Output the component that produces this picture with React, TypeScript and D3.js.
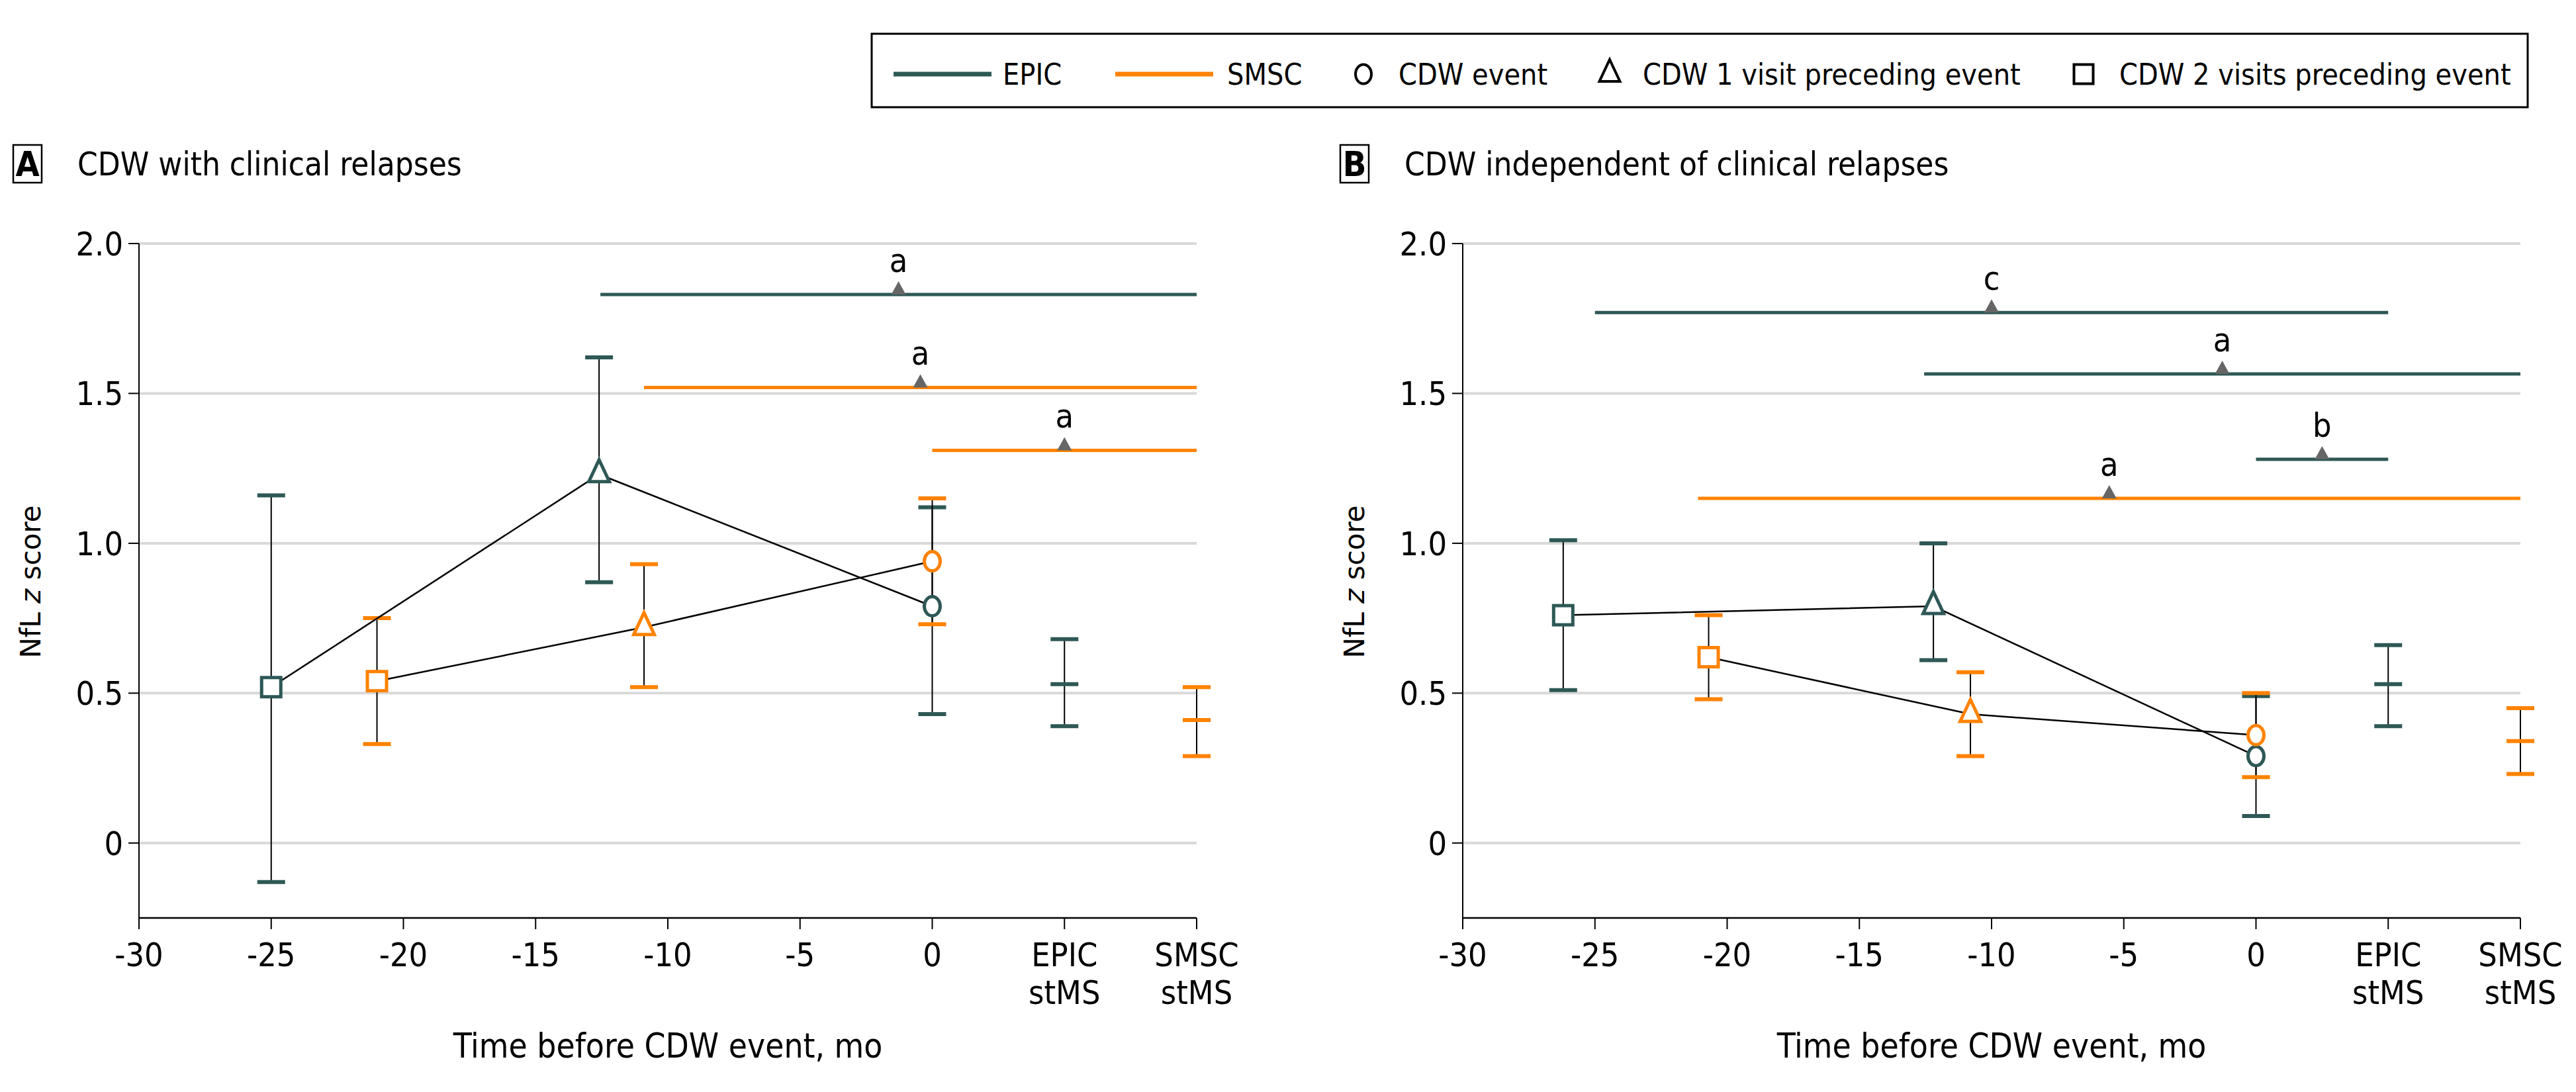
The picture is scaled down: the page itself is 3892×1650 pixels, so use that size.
import React from 'react'
import { scaleLinear, line } from 'd3'

// values (NfL z score, mean with 95% CI)
const xTicks = [-30, -25, -20, -15, -10, -5, 0, 5, 10]
const xTickLabels: Record<number, string[]> = {
  5: ['EPIC', 'stMS'],
  10: ['SMSC', 'stMS'],
}
const yTicks = [0, 0.5, 1.0, 1.5, 2.0]
const yTickLabels = ['0', '0.5', '1.0', '1.5', '2.0']

const STABLE_EPIC = 5
const STABLE_SMSC = 10

// panel A: CDW with clinical relapses
const aEpic = [
  { shape: 'square', t: -25, mean: 0.52, lo: -0.13, hi: 1.16 },
  { shape: 'triangle', t: -12.6, mean: 1.23, lo: 0.87, hi: 1.62 },
  { shape: 'circle', t: 0, mean: 0.79, lo: 0.43, hi: 1.12 },
]
const aSmsc = [
  { shape: 'square', t: -21, mean: 0.54, lo: 0.33, hi: 0.75 },
  { shape: 'triangle', t: -10.9, mean: 0.72, lo: 0.52, hi: 0.93 },
  { shape: 'circle', t: 0, mean: 0.94, lo: 0.73, hi: 1.15 },
]
const aEpicStable = { mean: 0.53, lo: 0.39, hi: 0.68 }
const aSmscStable = { mean: 0.41, lo: 0.29, hi: 0.52 }
const aBrackets = [
  { series: 'EPIC', y: 1.83, from: -12.55, to: 10, label: 'a' },
  { series: 'SMSC', y: 1.52, from: -10.9, to: 10, label: 'a' },
  { series: 'SMSC', y: 1.31, from: 0, to: 10, label: 'a' },
]

// panel B: CDW independent of clinical relapses
const bEpic = [
  { shape: 'square', t: -26.2, mean: 0.76, lo: 0.51, hi: 1.01 },
  { shape: 'triangle', t: -12.2, mean: 0.79, lo: 0.61, hi: 1.0 },
  { shape: 'circle', t: 0, mean: 0.29, lo: 0.09, hi: 0.49 },
]
const bSmsc = [
  { shape: 'square', t: -20.7, mean: 0.62, lo: 0.48, hi: 0.76 },
  { shape: 'triangle', t: -10.8, mean: 0.43, lo: 0.29, hi: 0.57 },
  { shape: 'circle', t: 0, mean: 0.36, lo: 0.22, hi: 0.5 },
]
const bEpicStable = { mean: 0.53, lo: 0.39, hi: 0.66 }
const bSmscStable = { mean: 0.34, lo: 0.23, hi: 0.45 }
const bBrackets = [
  { series: 'EPIC', y: 1.77, from: -25, to: 5, label: 'c' },
  { series: 'EPIC', y: 1.565, from: -12.55, to: 10, label: 'a' },
  { series: 'EPIC', y: 1.28, from: 0, to: 5, label: 'b' },
  { series: 'SMSC', y: 1.15, from: -21.1, to: 10, label: 'a' },
]

const legendItems = [
  { kind: 'line', series: 'EPIC', label: 'EPIC' },
  { kind: 'line', series: 'SMSC', label: 'SMSC' },
  { kind: 'circle', label: 'CDW event' },
  { kind: 'triangle', label: 'CDW 1 visit preceding event' },
  { kind: 'square', label: 'CDW 2 visits preceding event' },
]

const COLORS: Record<string, string> = { EPIC: '#2e5856', SMSC: '#ff8200' }
const NARROW = '"Liberation Sans Narrow", "DejaVu Sans Condensed", "Arial Narrow", sans-serif'
const W = 3892
const H = 1650

function Marker({ shape, x, y, color, sw = 5 }) {
  if (shape === 'square')
    return <rect x={x - 14.5} y={y - 14.5} width={29} height={29} fill="#fff" stroke={color} strokeWidth={sw} />
  if (shape === 'circle')
    return <ellipse cx={x} cy={y} rx={12} ry={14.5} fill="#fff" stroke={color} strokeWidth={sw} />
  // triangle centred on its centroid
  return (
    <path
      d={`M${x},${y - 22}L${x + 15.5},${y + 11}L${x - 15.5},${y + 11}Z`}
      fill="#fff"
      stroke={color}
      strokeWidth={sw}
      strokeLinejoin="miter"
    />
  )
}

function ErrorBar({ x, lo, hi, mean, color, showMean }) {
  const cw = 21
  return (
    <g>
      <line x1={x} x2={x} y1={lo} y2={hi} stroke="#000" strokeWidth={2} />
      <line x1={x - cw} x2={x + cw} y1={lo} y2={lo} stroke={color} strokeWidth={6} />
      <line x1={x - cw} x2={x + cw} y1={hi} y2={hi} stroke={color} strokeWidth={6} />
      {showMean && <line x1={x - cw} x2={x + cw} y1={mean} y2={mean} stroke={color} strokeWidth={6} />}
    </g>
  )
}

function Panel({ left, letter, title, epic, smsc, epicStable, smscStable, brackets, letterBoxX }) {
  const x = scaleLinear().domain([-30, 10]).range([left, left + 1598])
  const y = scaleLinear().domain([-0.25, 2.0]).range([1387, 368])
  const path = line<any>()
    .x((d) => x(d.t))
    .y((d) => y(d.mean))

  const series = [
    { name: 'EPIC', visits: epic, stable: epicStable, at: STABLE_EPIC },
    { name: 'SMSC', visits: smsc, stable: smscStable, at: STABLE_SMSC },
  ]

  return (
    <g>
      {/* panel header */}
      <rect x={letterBoxX} y={219} width={43} height={57} fill="#fff" stroke="#000" strokeWidth={2.5} />
      <text x={letterBoxX + 21.5} y={266} textAnchor="middle" fontFamily={NARROW} fontWeight="bold" fontSize={52}>
        {letter}
      </text>
      <text x={letterBoxX + 97} y={265} fontFamily={NARROW} fontSize={49}>
        {title}
      </text>

      {/* grid */}
      {yTicks.map((v) => (
        <line key={v} x1={x(-30)} x2={x(10)} y1={y(v)} y2={y(v)} stroke="#d9d9d9" strokeWidth={4} />
      ))}

      {/* y axis */}
      <line x1={x(-30)} x2={x(-30)} y1={y(2)} y2={y(-0.25)} stroke="#000" strokeWidth={2} />
      {yTicks.map((v, i) => (
        <g key={v}>
          <line x1={x(-30) - 16} x2={x(-30)} y1={y(v)} y2={y(v)} stroke="#000" strokeWidth={2} />
          <text x={x(-30) - 24} y={y(v) + 18} textAnchor="end" fontFamily={NARROW} fontSize={50}>
            {yTickLabels[i]}
          </text>
        </g>
      ))}
      <text
        transform={`translate(${left - 149},879) rotate(-90)`}
        textAnchor="middle"
        fontFamily='"DejaVu Sans", sans-serif'
        fontSize={42}
      >
        NfL <tspan fontStyle="italic">z</tspan> score
      </text>

      {/* x axis */}
      <line x1={x(-30)} x2={x(10)} y1={y(-0.25)} y2={y(-0.25)} stroke="#000" strokeWidth={2.5} />
      {xTicks.map((t) => (
        <g key={t}>
          <line x1={x(t)} x2={x(t)} y1={y(-0.25)} y2={y(-0.25) + 17} stroke="#000" strokeWidth={2} />
          {(xTickLabels[t] || [String(t)]).map((s, i) => (
            <text key={i} x={x(t)} y={1460 + i * 57} textAnchor="middle" fontFamily={NARROW} fontSize={50}>
              {s}
            </text>
          ))}
        </g>
      ))}
      <text x={(x(-30) + x(10)) / 2} y={1598} textAnchor="middle" fontFamily={NARROW} fontSize={51}>
        Time before CDW event, mo
      </text>

      {/* significance brackets */}
      {brackets.map((b, i) => {
        const mx = (x(b.from) + x(b.to)) / 2
        const by = y(b.y)
        return (
          <g key={i}>
            <line x1={x(b.from)} x2={x(b.to)} y1={by} y2={by} stroke={COLORS[b.series]} strokeWidth={5} />
            <path d={`M${mx},${by - 20}L${mx + 11},${by}L${mx - 11},${by}Z`} fill="#666" />
            <text x={mx} y={by - 34} textAnchor="middle" fontFamily={NARROW} fontSize={50}>
              {b.label}
            </text>
          </g>
        )
      })}

      {/* error bars */}
      {series.map((s) => (
        <g key={s.name}>
          {s.visits.map((d, i) => (
            <ErrorBar key={i} x={x(d.t)} lo={y(d.lo)} hi={y(d.hi)} mean={y(d.mean)} color={COLORS[s.name]} showMean={false} />
          ))}
          <ErrorBar
            x={x(s.at)}
            lo={y(s.stable.lo)}
            hi={y(s.stable.hi)}
            mean={y(s.stable.mean)}
            color={COLORS[s.name]}
            showMean={true}
          />
        </g>
      ))}

      {/* trajectories */}
      {series.map((s) => (
        <path key={s.name} d={path(s.visits) || ''} fill="none" stroke="#000" strokeWidth={2.5} />
      ))}

      {/* markers */}
      {series.map((s) =>
        s.visits.map((d, i) => (
          <Marker key={s.name + i} shape={d.shape} x={x(d.t)} y={y(d.mean)} color={COLORS[s.name]} />
        ))
      )}
    </g>
  )
}

function Legend() {
  // layout: x of each item's symbol (start for lines, centre for markers) and text start
  const slots = [
    { sx: 1350, tx: 1515 },
    { sx: 1685, tx: 1854 },
    { sx: 2060, tx: 2113 },
    { sx: 2432, tx: 2482 },
    { sx: 3148, tx: 3202 },
  ]
  const cy = 112
  return (
    <g>
      <rect x={1317} y={51} width={2502} height={111} fill="#fff" stroke="#000" strokeWidth={3} />
      {legendItems.map((it, i) => (
        <g key={it.label}>
          {it.kind === 'line' ? (
            <line x1={slots[i].sx} x2={slots[i].sx + 148} y1={cy} y2={cy} stroke={COLORS[it.series]} strokeWidth={7} />
          ) : (
            <Marker shape={it.kind} x={slots[i].sx} y={cy} color="#000" sw={4} />
          )}
          <text x={slots[i].tx} y={cy + 16} fontFamily={NARROW} fontSize={44.5}>
            {it.label}
          </text>
        </g>
      ))}
    </g>
  )
}

export default function App() {
  return (
    <svg
      width={W}
      height={H}
      viewBox={`0 0 ${W} ${H}`}
      style={{ position: 'absolute', left: 0, top: 0, display: 'block', background: '#fff' }}
    >
      <rect width={W} height={H} fill="#fff" />
      <Legend />
      <Panel
        left={210}
        letter="A"
        title="CDW with clinical relapses"
        epic={aEpic}
        smsc={aSmsc}
        epicStable={aEpicStable}
        smscStable={aSmscStable}
        brackets={aBrackets}
        letterBoxX={20}
      />
      <Panel
        left={2210}
        letter="B"
        title="CDW independent of clinical relapses"
        epic={bEpic}
        smsc={bSmsc}
        epicStable={bEpicStable}
        smscStable={bSmscStable}
        brackets={bBrackets}
        letterBoxX={2025}
      />
    </svg>
  )
}
